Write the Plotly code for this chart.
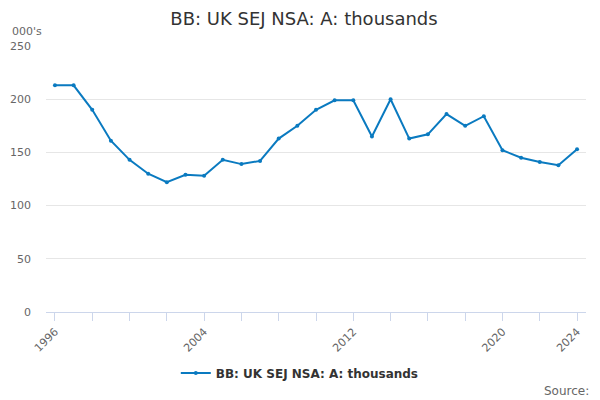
import plotly.graph_objects as go

# annual values, thousands
years = list(range(1996, 2025))
values = [213, 213, 190, 161, 143, 130, 122, 129, 128, 143, 139, 142, 163, 175,
          190, 199, 199, 165, 200, 163, 167, 186, 175, 184, 152, 145, 141, 138, 153]

tick_years = list(range(1996, 2025, 2))
tick_labels = [str(y) if y in (1996, 2004, 2012, 2020, 2024) else "" for y in tick_years]

font = "DejaVu Sans"

fig = go.Figure()
fig.add_trace(go.Scatter(
    x=years, y=values, mode="lines+markers",
    name="BB: UK SEJ NSA: A: thousands",
    line=dict(color="#0a7ac0", width=2),
    marker=dict(size=4, color="#0a7ac0"),
))

# page has an 8px body margin, so figure is 592x392
fig.update_layout(
    width=592, height=392,
    paper_bgcolor="white", plot_bgcolor="white",
    font=dict(family=font, color="#666666", size=11),
    title=dict(text="BB: UK SEJ NSA: A: thousands", x=0.5, xanchor="center",
               y=0.974, yanchor="middle",
               font=dict(size=18, color="#333333", family=font)),
    margin=dict(l=38, r=14, t=38, b=88),
    showlegend=True,
    legend=dict(orientation="h", x=0.47, xanchor="center", y=-0.229, yanchor="middle",
                font=dict(size=12, color="#333333", family=font, weight="bold")),
    xaxis=dict(range=[1995.52, 2024.48], tickmode="array", tickvals=tick_years,
               ticktext=tick_labels, tickangle=-45, ticks="outside", ticklen=8,
               tickcolor="#ccd6eb", showline=True, linecolor="#ccd6eb",
               showgrid=False, zeroline=False, automargin=False,
               tickfont=dict(size=11, color="#666666")),
    yaxis=dict(range=[0, 250], tickvals=[0, 50, 100, 150, 200, 250],
               showgrid=True, gridcolor="#e6e6e6", zeroline=False, automargin=False,
               tickfont=dict(size=11, color="#666666"), ticks="", ticklabelstandoff=14),
    annotations=[
        dict(text="000's", xref="paper", yref="paper", x=-0.067, y=1.053,
             xanchor="left", yanchor="middle", showarrow=False,
             font=dict(size=11, color="#666666")),
        dict(text="Source:", xref="paper", yref="paper", x=1.009, y=-0.297,
             xanchor="right", yanchor="middle", showarrow=False,
             font=dict(size=12, color="#666666")),
    ],
)

fig.write_html("out.html")
